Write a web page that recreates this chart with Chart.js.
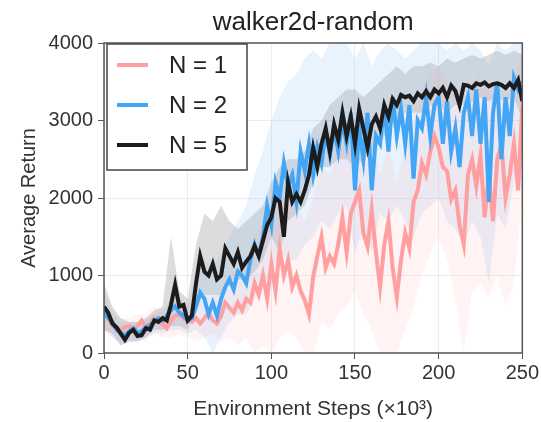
<!DOCTYPE html>
<html>
<head>
<meta charset="utf-8">
<script src="https://cdn.jsdelivr.net/npm/chart.js@4.4.1/dist/chart.umd.min.js"></script>
<style>
  html, body { margin: 0; padding: 0; background: #fff; }
  #wrap { width: 541px; height: 422px; }
</style>
</head>
<body>
<div id="wrap"><canvas id="chart" width="541" height="422"></canvas></div>
<script>
// x positions (thousands of env steps): means every 2.5k, bands every 5k
const meanSteps = Array.from({ length: 101 }, (_, i) => i * 2.5);
const bandSteps = Array.from({ length: 51 }, (_, i) => i * 5);

const seriesNames = ['N = 1', 'N = 2', 'N = 5'];
const lineColors = ['#ff9f9f', '#42a5f5', '#1c1c1c'];
const bandColors = ['rgba(255,160,160,0.12)', 'rgba(120,180,240,0.16)', 'rgba(140,140,140,0.30)'];

// N = 1 (pink)
const meanN1 = [
  500, 450, 350, 320, 300, 330, 350, 300, 350, 420,
  330, 380, 450, 400, 380, 320, 420, 480, 500, 450,
  420, 400, 450, 380, 450, 520, 420, 380, 480, 650,
  580, 520, 650, 550, 700, 650, 900, 750, 1000, 700,
  1150, 800, 1350, 1000, 1200, 850, 1000, 800, 680, 500,
  980, 1250, 1500, 1100, 1250, 1150, 1400, 1750, 1300, 1800,
  1950, 2100, 1550, 1370, 1850, 1300, 850, 1400, 1700, 1100,
  720, 1200, 1550, 1350, 1950, 2100, 2450, 2300, 2600, 2800,
  2650, 2400, 2350, 1980, 2100, 1650, 1400, 2300, 2500, 2150,
  2550, 1750, 2300, 1700, 2500, 2700, 2000, 2300, 2700, 2100,
  3200
];
// N = 2 (blue)
const meanN2 = [
  550, 450, 400, 300, 260, 220, 280, 320, 260, 280,
  330, 360, 400, 450, 420, 480, 550, 600, 520, 480,
  420, 450, 600, 780, 700, 500, 650, 480, 700, 850,
  950, 820, 1050, 1000, 900, 1200, 1400, 1250, 1500, 1900,
  1650, 2200, 2000, 2450, 2150, 2300, 1950, 2600, 2350, 2700,
  2300, 2650, 2450, 2850, 2550, 2900, 2600, 3000, 2700, 3100,
  2100, 2900, 2500, 3100, 2100, 2800, 2700, 3200, 2600, 3300,
  2800, 3150, 2700, 3200, 2250, 3000, 2900, 3300, 2800, 3200,
  3300, 2700, 3250, 2600, 2900, 2400, 3100, 3300, 2800, 3400,
  2700, 3300, 1950, 3100, 3500, 2500, 3300, 2800, 3550, 3400,
  3500
];
// N = 5 (black)
const meanN5 = [
  600, 520, 380, 330, 250, 170, 260, 300, 220, 230,
  320, 300, 420, 400, 450, 420, 620, 880, 600, 620,
  420, 480, 900, 1250, 1050, 1000, 1150, 950, 1000, 1350,
  1250, 1150, 1300, 1100, 1180, 1250, 1380, 1250, 1450, 1650,
  1750, 2000, 1950, 1500, 2200, 1950, 2050, 1950, 2100, 2300,
  2650, 2400, 2700, 2900, 2600, 2950, 2750, 3100, 2800, 3050,
  2700, 3150, 2900, 2650, 2950, 3050, 2900, 3200, 3050, 3280,
  3200, 3330, 3300, 3320, 3250, 3350, 3300, 3380, 3300, 3400,
  3350, 3420, 3300, 3450, 3380, 3200, 3460, 3450, 3420, 3480,
  3460, 3490, 3440, 3470, 3480, 3460, 3420, 3480, 3420, 3520,
  3250
];

// shaded spread, upper / lower edges
const upperN1 = [
  700, 500, 450, 450, 500, 500, 600, 550, 650, 700,
  650, 650, 700, 750, 800, 1000, 1100, 1200, 1500, 1700,
  1900, 2000, 2000, 1900, 1700, 2000, 2400, 2300, 2600, 2700,
  3000, 2700, 2800, 2300, 2700, 2200, 2700, 3000, 3400, 3600,
  3700, 3500, 3400, 3000, 3500, 3600, 3400, 3500, 3300, 3600,
  3900
];
const lowerN1 = [
  300, 200, 150, 200, 200, 150, 250, 200, 200, 250,
  200, 150, 200, 250, 150, 200, 100, 200, 0, 100,
  0, 200, 300, 200, 0, 0, 400, 300, 500, 600,
  800, 500, 300, 0, 0, 0, 300, 600, 1000, 1300,
  1500, 1200, 700, 0, 800, 900, 700, 1000, 600, 900,
  2000
];
const upperN2 = [
  800, 550, 400, 400, 400, 450, 500, 550, 700, 700,
  600, 1000, 1200, 1100, 1300, 1500, 1700, 1900, 2300, 2600,
  3000, 3300, 3500, 3600, 3800, 3900, 3800, 4000, 4000, 4000,
  3800, 4000, 3700, 3900, 4000, 3900, 3800, 3900, 4000, 4000,
  4000, 3900, 4000, 3900, 4000, 3900, 3700, 4000, 3900, 4000,
  4000
];
const lowerN2 = [
  300, 200, 100, 150, 150, 200, 250, 250, 300, 300,
  250, 300, 200, 0, 200, 400, 500, 500, 700, 900,
  1000, 1300, 1200, 1200, 1400, 1500, 1700, 1600, 1800, 1900,
  1300, 1600, 1300, 1800, 1700, 1900, 1700, 1500, 1800, 1900,
  2000, 1700, 1600, 1400, 1700, 1500, 900, 1800, 1600, 2200,
  2400
];
const upperN5 = [
  900, 600, 450, 400, 400, 450, 550, 600, 1500, 800,
  700, 1400, 1800, 1700, 1900, 1700, 1600, 1700, 1800, 1900,
  2200, 2400, 2500, 2500, 2600, 2900, 3000, 3200, 3300, 3400,
  3400, 3300, 3400, 3500, 3600, 3700, 3600, 3700, 3700, 3750,
  3700, 3800, 3750, 3800, 3850, 3800, 3850, 3900, 3850, 3900,
  3850
];
const lowerN5 = [
  300, 250, 100, 150, 150, 200, 300, 300, 350, 350,
  300, 600, 750, 750, 750, 950, 950, 950, 1050, 1200,
  1500, 1300, 1700, 1800, 1900, 2200, 2400, 2400, 2500, 2500,
  2400, 2500, 2600, 2700, 2900, 3000, 3100, 3100, 3100, 3200,
  3200, 3100, 3200, 3200, 3250, 3300, 3250, 3300, 3250, 3300,
  3000
];

const means = [meanN1, meanN2, meanN5];
const uppers = [upperN1, upperN2, upperN5];
const lowers = [lowerN1, lowerN2, lowerN5];

const toPoints = (xs, ys) => ys.map((y, i) => ({ x: xs[i], y }));

const datasets = [];
// bands: upper filled down to lower (next dataset)
for (let s = 0; s < 3; s++) {
  datasets.push({
    label: seriesNames[s] + ' upper',
    data: toPoints(bandSteps, uppers[s]),
    borderWidth: 0,
    pointRadius: 0,
    backgroundColor: bandColors[s],
    fill: '+1',
    order: 10 + s
  });
  datasets.push({
    label: seriesNames[s] + ' lower',
    data: toPoints(bandSteps, lowers[s]),
    borderWidth: 0,
    pointRadius: 0,
    fill: false,
    order: 10 + s
  });
}
// mean lines, black on top
for (let s = 0; s < 3; s++) {
  datasets.push({
    label: seriesNames[s],
    data: toPoints(meanSteps, means[s]),
    borderColor: lineColors[s],
    borderWidth: 4,
    pointRadius: 0,
    tension: 0,
    fill: false,
    order: 3 - s
  });
}

const FONT = '"Liberation Sans", Arial, sans-serif';

const overlay = {
  id: 'overlay',
  afterDatasetsDraw(chart) {
    const { ctx, chartArea: a } = chart;
    ctx.save();
    // frame around the plot
    ctx.strokeStyle = '#555';
    ctx.lineWidth = 1.5;
    ctx.strokeRect(a.left, a.top, a.right - a.left, a.bottom - a.top);
    // legend box
    const bx = a.left + 3, by = a.top + 1, bw = 140, bh = 126;
    ctx.fillStyle = '#fff';
    ctx.fillRect(bx, by, bw, bh);
    ctx.strokeStyle = '#444';
    ctx.lineWidth = 1.5;
    ctx.strokeRect(bx, by, bw, bh);
    ctx.font = '24px ' + FONT;
    ctx.textBaseline = 'middle';
    ctx.textAlign = 'left';
    seriesNames.forEach((name, i) => {
      const y = by + 21 + i * 40;
      ctx.strokeStyle = lineColors[i];
      ctx.lineWidth = 4;
      ctx.beginPath();
      ctx.moveTo(bx + 10, y);
      ctx.lineTo(bx + 41, y);
      ctx.stroke();
      ctx.fillStyle = '#222';
      ctx.fillText(name, bx + 62, y + 1);
    });
    ctx.restore();
  },
  afterDraw(chart) {
    const { ctx, chartArea: a } = chart;
    ctx.save();
    ctx.font = '26px ' + FONT;
    ctx.fillStyle = '#222';
    ctx.textAlign = 'center';
    ctx.textBaseline = 'middle';
    ctx.fillText('walker2d-random', (a.left + a.right) / 2, 23);
    ctx.restore();
  }
};

new Chart(document.getElementById('chart'), {
  type: 'line',
  data: { datasets },
  plugins: [overlay],
  options: {
    responsive: false,
    animation: false,
    devicePixelRatio: 1,
    layout: { padding: { top: 43, right: 18, left: 0, bottom: 0 } },
    plugins: {
      legend: { display: false },
      tooltip: { enabled: false },
      filler: { drawTime: 'beforeDatasetsDraw' }
    },
    scales: {
      x: {
        type: 'linear',
        min: 0,
        max: 250,
        ticks: { stepSize: 50, color: '#333', font: { family: FONT, size: 20 }, padding: 2, maxRotation: 0 },
        grid: { color: 'rgba(0,0,0,0.07)', tickColor: '#555', tickLength: 6 },
        border: { display: false },
        title: { display: true, text: 'Environment Steps (×10³)', color: '#333', font: { family: FONT, size: 21 }, padding: { top: 0, bottom: 0 } },
        afterFit: s => { s.height = 69; }
      },
      y: {
        min: 0,
        max: 4000,
        ticks: { stepSize: 1000, color: '#333', font: { family: FONT, size: 20 }, padding: 5, callback: v => String(v) },
        grid: { color: 'rgba(0,0,0,0.07)', tickColor: '#555', tickLength: 6 },
        border: { display: false },
        title: { display: true, text: 'Average Return', color: '#333', font: { family: FONT, size: 20 }, padding: { top: 17, bottom: 0 } },
        afterFit: s => { s.width = 104; }
      }
    }
  }
});
</script>
</body>
</html>
